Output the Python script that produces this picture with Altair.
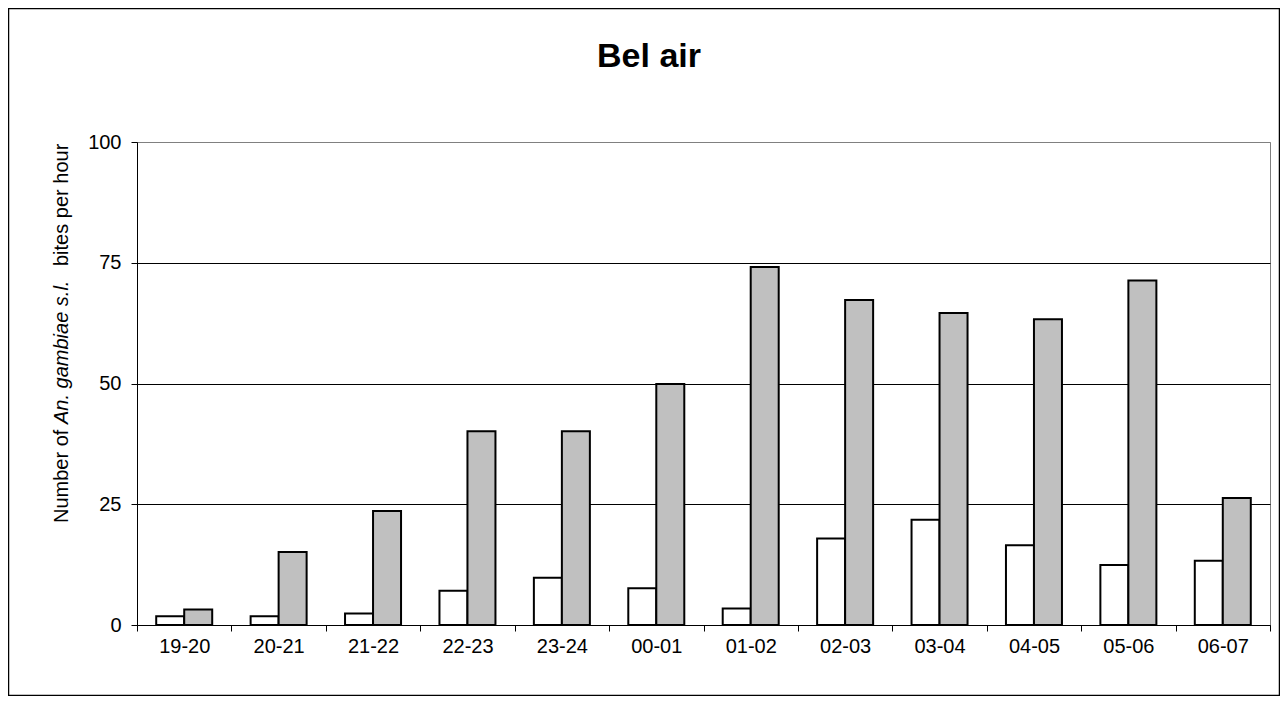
import altair as alt
import pandas as pd

# ---- data ----
hours = ["19-20", "20-21", "21-22", "22-23", "23-24", "00-01",
         "01-02", "02-03", "03-04", "04-05", "05-06", "06-07"]
series_names = ["Series 1", "Series 2"]
series_white = [1.8, 1.8, 2.4, 7.1, 9.8, 7.6, 3.4, 17.9, 21.8, 16.5, 12.4, 13.3]
series_grey = [3.2, 15.1, 23.6, 40.1, 40.1, 49.9, 74.1, 67.3, 64.6, 63.3, 71.3, 26.3]
y_ticks = [0, 25, 50, 75, 100]
title_text = ["Bel air"]
ytitle_parts = ["Number of", "An. gambiae s.l.", "bites per hour"]

rows = []
for h, a, b in zip(hours, series_white, series_grey):
    rows.append({"hour": h, "series": series_names[0], "bites": a})
    rows.append({"hour": h, "series": series_names[1], "bites": b})
df = pd.DataFrame(rows)

FONT = "Liberation Sans"
W, H = 1133, 483
PL, PT, PR, PB = 129, 134, 10, 71

bars = alt.Chart(df).mark_bar(stroke="black", strokeWidth=2).encode(
    x=alt.X(
        "hour:N", sort=hours, title=None,
        scale=alt.Scale(paddingInner=0, paddingOuter=0),
        axis=alt.Axis(tickBand="extent", labelAngle=0, domainColor="black",
                      tickColor="black", tickSize=6, labelFontSize=20,
                      labelPadding=5, labelColor="black", labelFont=FONT,
                      grid=False),
    ),
    xOffset=alt.XOffset("series:N", sort=series_names,
                        scale=alt.Scale(paddingInner=0, paddingOuter=0.686)),
    y=alt.Y(
        "bites:Q", title=None,
        scale=alt.Scale(domain=[0, 100], nice=False),
        axis=alt.Axis(values=y_ticks, domainColor="black", tickColor="black",
                      tickSize=6, labelFontSize=20, labelPadding=10,
                      labelColor="black", labelFont=FONT, grid=True,
                      gridColor=alt.condition("datum.value == 100",
                                              alt.value("#808080"),
                                              alt.value("black")),
                      gridWidth=1),
    ),
    fill=alt.Fill("series:N", scale=alt.Scale(domain=series_names,
                                              range=["white", "#c0c0c0"]),
                  legend=None),
)

one = pd.DataFrame({"k": [0]})

border = alt.Chart(one).mark_rect(
    fillOpacity=0, fill="white", stroke="black", strokeWidth=1.5
).encode(
    x=alt.value(-PL + 0.5), x2=alt.value(W + PR - 0.5),
    y=alt.value(-PT + 0.5), y2=alt.value(H + PB - 0.5),
)

title = alt.Chart(pd.DataFrame({"t": title_text})).mark_text(
    font=FONT, fontSize=34, fontWeight="bold", color="black",
    align="center", baseline="alphabetic"
).encode(text="t:N", x=alt.value(512), y=alt.value(-75))

def ypart(txt, ypos, italic=False):
    return alt.Chart(pd.DataFrame({"t": [txt]})).mark_text(
        font=FONT, fontSize=20, color="black", angle=270,
        align="left", baseline="middle",
        fontStyle="italic" if italic else "normal"
    ).encode(text="t:N", x=alt.value(-75), y=alt.value(ypos))

yt1 = ypart(ytitle_parts[0], 381)
yt2 = ypart(ytitle_parts[1], 282, italic=True)
yt3 = ypart(ytitle_parts[2], 124)

chart = alt.layer(border, bars, title, yt1, yt2, yt3).properties(
    width=W, height=H,
    autosize=alt.AutoSizeParams(type="none"),
    padding={"left": PL, "top": PT, "right": PR, "bottom": PB},
    background="white",
).configure_view(stroke="#808080", strokeWidth=1)

chart.save("out.html", embed_options={"renderer": "svg", "actions": False})
